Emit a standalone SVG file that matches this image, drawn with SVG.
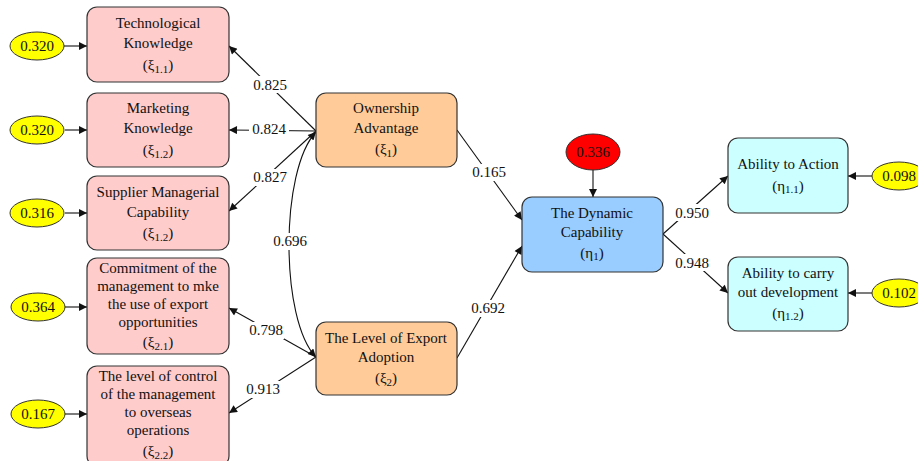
<svg xmlns="http://www.w3.org/2000/svg" width="918" height="461" viewBox="0 0 918 461">
<style>
text{font-size:15px;fill:#111;text-anchor:middle}
.sub{font-size:11px}
.box{stroke:#333;stroke-width:1.2}
.pink{fill:#FFCCCC}.orange{fill:#FFCC99}.blue{fill:#99CCFF}.cyan{fill:#CCFFFF}
.ye{fill:#FFFF00;stroke:#333;stroke-width:1}
.ln{stroke:#111;stroke-width:1.1;fill:none;marker-end:url(#ah)}
.bg{fill:#fff}
</style>
<defs>
<marker id="ah" viewBox="0 0 10 10" refX="10" refY="5" markerWidth="10" markerHeight="8" markerUnits="userSpaceOnUse" orient="auto-start-reverse">
<path d="M0,0 L10,5 L0,10 z" fill="#111"/>
</marker>
</defs>
<g font-family="'Liberation Serif', serif">
<g id="connectors">
<line class="ln" x1="64" y1="46" x2="87" y2="46"/>
<line class="ln" x1="65" y1="130" x2="87" y2="130"/>
<line class="ln" x1="65" y1="213" x2="87" y2="213"/>
<line class="ln" x1="65" y1="307" x2="87" y2="307"/>
<line class="ln" x1="65" y1="414" x2="87" y2="414"/>
<line class="ln" x1="872" y1="176" x2="848" y2="176"/>
<line class="ln" x1="872" y1="293" x2="848" y2="293"/>
<line class="ln" x1="593" y1="170" x2="593" y2="197"/>
<line class="ln" x1="316" y1="131" x2="229" y2="46"/>
<line class="ln" x1="316" y1="131" x2="229" y2="130"/>
<line class="ln" x1="316" y1="131" x2="229" y2="211"/>
<line class="ln" x1="316" y1="357" x2="229" y2="308"/>
<line class="ln" x1="316" y1="357" x2="229" y2="413"/>
<path class="ln" d="M316,132 C280,170 280,320 316,357" style="marker-start:url(#ah)"/>
<line class="ln" x1="457" y1="130" x2="522" y2="220"/>
<line class="ln" x1="457" y1="358" x2="522" y2="246"/>
<line class="ln" x1="663" y1="234" x2="728" y2="176"/>
<line class="ln" x1="663" y1="234" x2="728" y2="293"/>
<g id="labels">
<rect class="bg" x="252" y="76" width="36" height="17"/><text x="270" y="90">0.825</text>
<rect class="bg" x="249" y="121" width="40" height="17"/><text x="269" y="134">0.824</text>
<rect class="bg" x="252" y="169" width="36" height="17"/><text x="270" y="182">0.827</text>
<rect class="bg" x="272" y="233" width="36" height="17"/><text x="290" y="246">0.696</text>
<rect class="bg" x="248" y="322" width="36" height="17"/><text x="266" y="335">0.798</text>
<rect class="bg" x="245" y="381" width="36" height="17"/><text x="263" y="394">0.913</text>
<rect class="bg" x="471" y="164" width="36" height="17"/><text x="489" y="177">0.165</text>
<rect class="bg" x="470" y="300" width="36" height="17"/><text x="488" y="313">0.692</text>
<rect class="bg" x="674" y="204" width="36" height="17"/><text x="692" y="218">0.950</text>
<rect class="bg" x="674" y="254" width="36" height="17"/><text x="692" y="268">0.948</text>
</g>
</g>
<g id="e1"><ellipse class="ye" cx="37" cy="46" rx="27" ry="14"/><text x="37" y="51">0.320</text></g>
<g id="e2"><ellipse class="ye" cx="37" cy="130" rx="27" ry="14"/><text x="37" y="135">0.320</text></g>
<g id="e3"><ellipse class="ye" cx="37" cy="213" rx="27" ry="14"/><text x="37" y="218">0.316</text></g>
<g id="e4"><ellipse class="ye" cx="38" cy="307" rx="27" ry="14"/><text x="38" y="312">0.364</text></g>
<g id="e5"><ellipse class="ye" cx="38" cy="414" rx="27" ry="14"/><text x="38" y="419">0.167</text></g>
<g id="e6"><ellipse class="ye" cx="899" cy="176" rx="27" ry="14"/><text x="899" y="181">0.098</text></g>
<g id="e7"><ellipse class="ye" cx="899" cy="293" rx="27" ry="14"/><text x="899" y="298">0.102</text></g>
<g id="e8"><ellipse cx="593" cy="152" rx="27" ry="18" fill="#FF0000" stroke="#333"/><text x="593" y="157">0.336</text></g>
<g id="x11"><rect class="box pink" x="87" y="7" width="142" height="75" rx="10"/>
<text x="158" y="28">Technological</text><text x="158" y="48">Knowledge</text><text x="158" y="70">(ξ<tspan class="sub" dy="3">1.1</tspan><tspan dy="-3">)</tspan></text></g>
<g id="x12"><rect class="box pink" x="87" y="93" width="142" height="74" rx="10"/>
<text x="158" y="113">Marketing</text><text x="158" y="133">Knowledge</text><text x="158" y="155">(ξ<tspan class="sub" dy="3">1.2</tspan><tspan dy="-3">)</tspan></text></g>
<g id="x13"><rect class="box pink" x="87" y="176" width="142" height="74" rx="10"/>
<text x="158" y="197">Supplier Managerial</text><text x="158" y="217">Capability</text><text x="158" y="238">(ξ<tspan class="sub" dy="3">1.2</tspan><tspan dy="-3">)</tspan></text></g>
<g id="x21"><rect class="box pink" x="87" y="258" width="142" height="96" rx="10"/>
<text x="158" y="273">Commitment of the</text><text x="158" y="291">management to mke</text><text x="158" y="309">the use of export</text><text x="158" y="327">opportunities</text><text x="158" y="347">(ξ<tspan class="sub" dy="3">2.1</tspan><tspan dy="-3">)</tspan></text></g>
<g id="x22"><rect class="box pink" x="87" y="366" width="142" height="100" rx="10"/>
<text x="158" y="381">The level of control</text><text x="158" y="399">of the management</text><text x="158" y="417">to overseas</text><text x="158" y="435">operations</text><text x="158" y="456">(ξ<tspan class="sub" dy="3">2.2</tspan><tspan dy="-3">)</tspan></text></g>
<g id="xi1"><rect class="box orange" x="316" y="93" width="141" height="74" rx="10"/>
<text x="386" y="113">Ownership</text><text x="386" y="133">Advantage</text><text x="386" y="154">(ξ<tspan class="sub" dy="3">1</tspan><tspan dy="-3">)</tspan></text></g>
<g id="xi2"><rect class="box orange" x="316" y="322" width="141" height="73" rx="10"/>
<text x="386" y="343">The Level of Export</text><text x="386" y="362">Adoption</text><text x="386" y="383">(ξ<tspan class="sub" dy="3">2</tspan><tspan dy="-3">)</tspan></text></g>
<g id="eta1"><rect class="box blue" x="522" y="197" width="141" height="75" rx="10"/>
<text x="592" y="218">The Dynamic</text><text x="592" y="237">Capability</text><text x="592" y="258">(η<tspan class="sub" dy="2">1</tspan><tspan dy="-2">)</tspan></text></g>
<g id="eta11"><rect class="box cyan" x="728" y="138" width="120" height="75" rx="10"/>
<text x="788" y="169">Ability to Action</text><text x="788" y="191">(η<tspan class="sub" dy="2">1.1</tspan><tspan dy="-2">)</tspan></text></g>
<g id="eta12"><rect class="box cyan" x="728" y="257" width="120" height="74" rx="10"/>
<text x="788" y="278">Ability to carry</text><text x="788" y="297">out development</text><text x="788" y="318">(η<tspan class="sub" dy="2">1.2</tspan><tspan dy="-2">)</tspan></text></g>
</g>
</svg>
